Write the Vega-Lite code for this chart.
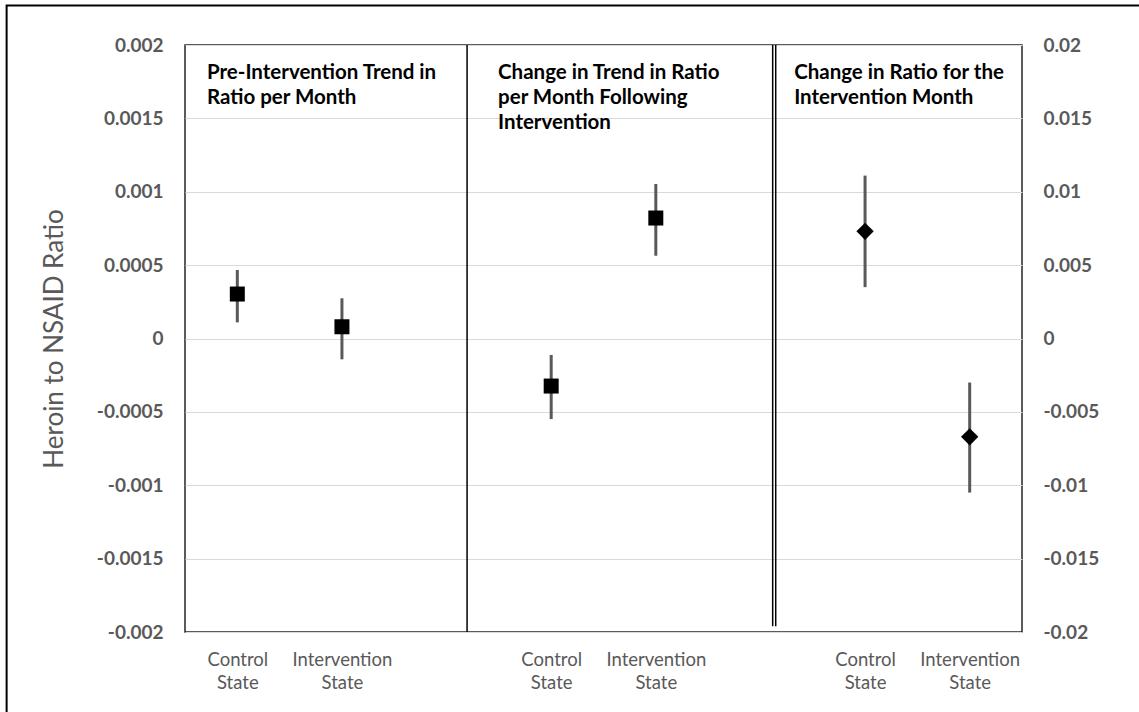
{
  "$schema": "https://vega.github.io/schema/vega-lite/v6.json",
  "width": 837,
  "height": 587,
  "autosize": {"type": "none"},
  "padding": {"left": 185, "top": 45, "right": 117, "bottom": 80},
  "background": "white",
  "config": {
    "view": {"stroke": "#262626", "strokeWidth": 1.5},
    "font": "Lato",
    "axisX": {
      "grid": false, "ticks": false, "domain": false,
      "labelColor": "#595959", "labelFontSize": 18.5, "labelFont": "Lato",
      "labelLineHeight": 23, "labelPadding": 18, "labelOverlap": false, "labelBound": false, "labelFlush": false
    }
  },
  "datasets": {
    "est": [
      {"panel": "Pre-Intervention", "group": "Control State", "pos": 0, "est": 0.000303, "lo": 0.00011, "hi": 0.000467},
      {"panel": "Pre-Intervention", "group": "Intervention State", "pos": 1, "est": 0.00008, "lo": -0.000142, "hi": 0.000274},
      {"panel": "Change in Trend", "group": "Control State", "pos": 3, "est": -0.000324, "lo": -0.000549, "hi": -0.000112},
      {"panel": "Change in Trend", "group": "Intervention State", "pos": 4, "est": 0.000821, "lo": 0.000564, "hi": 0.001053}
    ],
    "est3": [
      {"panel": "Intervention Month", "group": "Control State", "pos": 6, "est": 0.0073, "lo": 0.0035, "hi": 0.0111},
      {"panel": "Intervention Month", "group": "Intervention State", "pos": 7, "est": -0.0067, "lo": -0.0105, "hi": -0.003}
    ],
    "titles": [
      {"x": -0.29, "y": 0.001877, "label": "Pre-Intervention Trend in\nRatio per Month"},
      {"x": 2.492, "y": 0.001877, "label": "Change in Trend in Ratio\nper Month Following\nIntervention"},
      {"x": 5.322, "y": 0.001877, "label": "Change in Ratio for the\nIntervention Month"}
    ],
    "dividers": [
      {"x": 2.196, "top": 0.002, "bottom": -0.002},
      {"x": 5.117, "top": 0.002, "bottom": -0.00196},
      {"x": 5.146, "top": 0.002, "bottom": -0.00196}
    ],
    "frame": [
      {"x1": -2.205, "x2": 9, "y1": 0.00227, "y2": -0.0031}
    ]
  },
  "layer": [
    {
      "layer": [
        {
          "data": {"name": "est"},
          "mark": {"type": "rule", "color": "#595959", "strokeWidth": 3},
          "encoding": {
            "x": {
              "field": "pos", "type": "quantitative", "title": null,
              "scale": {"domain": [-0.5, 7.5], "nice": false, "zero": false},
              "axis": {
                "values": [0, 1, 3, 4, 6, 7],
                "labelExpr": "datum.value % 3 == 0 ? ['Control', 'State'] : ['Intervention', 'State']"
              }
            },
            "y": {
              "field": "lo", "type": "quantitative", "title": "Heroin to NSAID Ratio",
              "scale": {"domain": [-0.002, 0.002], "nice": false, "zero": false},
              "axis": {
                "values": [-0.002, -0.0015, -0.001, -0.0005, 0, 0.0005, 0.001, 0.0015, 0.002],
                "labelExpr": "toString(datum.value)",
                "grid": true, "gridColor": "#d9d9d9", "gridWidth": 1,
                "domain": false, "ticks": false,
                "labelFontWeight": "bold", "labelColor": "#595959", "labelFontSize": 19, "labelPadding": 22,
                "title": "Heroin to NSAID Ratio", "titleFontWeight": "normal", "titleColor": "#595959",
                "titleFontSize": 26, "titlePadding": 29
              }
            },
            "y2": {"field": "hi"}
          }
        },
        {
          "data": {"name": "est"},
          "mark": {"type": "point", "shape": "square", "filled": true, "color": "black", "size": 225, "opacity": 1},
          "encoding": {
            "x": {"field": "pos", "type": "quantitative", "title": null},
            "y": {"field": "est", "type": "quantitative", "title": "Heroin to NSAID Ratio"}
          }
        },
        {
          "data": {"name": "dividers"},
          "mark": {"type": "rule", "color": "black", "strokeWidth": 1.5},
          "encoding": {
            "x": {"field": "x", "type": "quantitative", "title": null},
            "y": {"field": "top", "type": "quantitative", "title": "Heroin to NSAID Ratio"},
            "y2": {"field": "bottom"}
          }
        },
        {
          "data": {"name": "titles"},
          "mark": {"type": "text", "align": "left", "baseline": "top", "lineBreak": "\n", "lineHeight": 25, "fontWeight": "bold", "fontSize": 20.5, "color": "black"},
          "encoding": {
            "x": {"field": "x", "type": "quantitative", "title": null},
            "y": {"field": "y", "type": "quantitative", "title": "Heroin to NSAID Ratio"},
            "text": {"field": "label", "type": "nominal"}
          }
        },
        {
          "data": {"name": "frame"},
          "mark": {"type": "rect", "fill": null, "stroke": "black", "strokeWidth": 2},
          "encoding": {
            "x": {"field": "x1", "type": "quantitative", "title": null},
            "x2": {"field": "x2"},
            "y": {"field": "y1", "type": "quantitative", "title": "Heroin to NSAID Ratio"},
            "y2": {"field": "y2"}
          }
        }
      ]
    },
    {
      "data": {"name": "est3"},
      "layer": [
        {
          "mark": {"type": "rule", "color": "#595959", "strokeWidth": 3},
          "encoding": {
            "x": {"field": "pos", "type": "quantitative", "title": null},
            "y": {
              "field": "lo", "type": "quantitative", "title": null,
              "scale": {"domain": [-0.02, 0.02], "nice": false, "zero": false},
              "axis": {
                "orient": "right",
                "values": [-0.02, -0.015, -0.01, -0.005, 0, 0.005, 0.01, 0.015, 0.02],
                "labelExpr": "toString(datum.value)",
                "grid": false, "domain": false, "ticks": false,
                "labelFontWeight": "bold", "labelColor": "#595959", "labelFontSize": 19, "labelPadding": 21,
                "title": null
              }
            },
            "y2": {"field": "hi"}
          }
        },
        {
          "mark": {"type": "point", "shape": "diamond", "filled": true, "color": "black", "size": 300, "opacity": 1},
          "encoding": {
            "x": {"field": "pos", "type": "quantitative", "title": null},
            "y": {"field": "est", "type": "quantitative", "title": null}
          }
        }
      ]
    }
  ],
  "resolve": {"scale": {"y": "independent"}}
}
